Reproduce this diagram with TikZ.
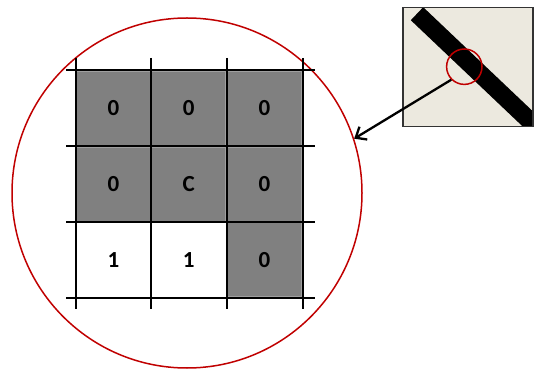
\documentclass[tikz,border=0pt]{standalone}
\usepackage{fontspec}
\setmainfont{Carlito}
\usetikzlibrary{arrows.meta}
\definecolor{DarkRed}{RGB}{192,0,0}
\definecolor{CellGray}{RGB}{128,128,128}
\definecolor{Paper}{RGB}{236,233,223}

\tikzset{
	cell/.style={minimum size=74pt, inner sep=0pt, font=\fontsize{23}{23}\selectfont\bfseries},
	dark/.style={cell, fill=CellGray, draw=gray!75, line width=0.8pt},
	light/.style={cell, fill=white},
	ring/.style={circle, draw=DarkRed, line width=1.5pt, inner sep=0pt},
	gridline/.style={line width=2pt, black},
	frame/.style={draw=black!80, line width=1.5pt}
}

\begin{document}
\begin{tikzpicture}[x=1pt, y=-1pt]
		\useasboundingbox (0,0) rectangle (535,371);
		
		% big circle
		\node[ring, minimum size=350pt] (zoom) at (187,193) {};
		
		% cells
		\node[dark] (c11) at (113.5,108) {0};
		\node[dark] (c12) at (188.8,108) {0};
		\node[dark] (c13) at (264.4,108) {\raisebox{-1pt}{0}};
		\node[dark] (c21) at (113.5,184) {0};
		\node[dark] (c22) at (188.8,184) {C};
		\node[dark] (c23) at (264.4,184) {0};
		\node[light] (c31) at (113.5,259.8) {1};
		\node[light] (c32) at (188.8,259.8) {1};
		\node[dark] (c33) at (264.4,259.8) {0};
		
		% grid
		\foreach \x in {76,151,226.5,302.5}
			\draw[gridline] (\x,58) -- (\x,309);
		\foreach \y in {70,146,221.8,297.7}
			\draw[gridline] (66,\y) -- (315,\y);
		
		% inset
		\node[fill=Paper, minimum width=130pt, minimum height=119.4pt, outer sep=0pt, inner sep=0pt] (inset) at (468,67) {};
		\begin{scope}
			\clip (inset.south west) rectangle (inset.north east);
			\draw[line width=18pt] (417,13.7) -- (540,130.5);
		\end{scope}
		\draw[frame] (inset.south west) rectangle (inset.north east);
		\node[ring, minimum size=35.4pt] (spot) at (464.3,66.7) {};
		
		% arrow
		\draw[-{Straight Barb[length=9pt, width=15pt]}, line width=2.3pt] (spot.225) -- (zoom.18);
	\end{tikzpicture}
\end{document}
